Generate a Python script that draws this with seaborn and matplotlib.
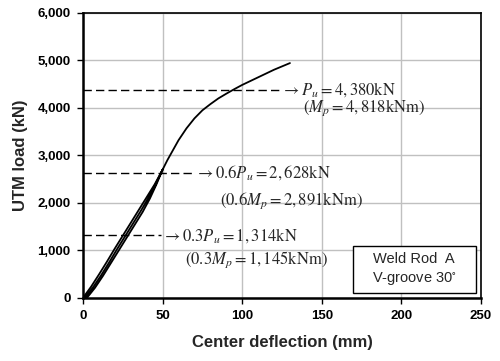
import pandas as pd
import matplotlib
matplotlib.use('Agg')
import matplotlib.pyplot as plt
from matplotlib.patches import Rectangle
import seaborn as sns

# load-deflection path (mm, kN)
load1_x = [0, 5, 10, 15, 20, 25, 30, 35, 40, 45, 50]
load1_y = [0, 230, 490, 760, 1040, 1310, 1580, 1850, 2120, 2390, 2700]
unload1_x = [50, 46, 42, 37.5, 32.5, 27.5, 22.5, 17.5, 12.5, 7.5, 2.5]
unload1_y = [2700, 2380, 2090, 1810, 1540, 1270, 1000, 730, 460, 210, 0]
load2_x = [1.3, 6.3, 11.3, 16.3, 21.3, 26.3, 31.3, 36.3, 41, 45.5, 50]
load2_y = [0, 220, 470, 740, 1020, 1290, 1560, 1830, 2100, 2380, 2700]
env_x = [50, 53, 56, 60, 65, 70, 75, 80, 85, 90, 95, 100, 105, 110, 115, 120, 125, 130]
env_y = [2700, 2900, 3080, 3320, 3570, 3780, 3950, 4080, 4200, 4300, 4395, 4485,
         4565, 4645, 4725, 4805, 4875, 4945]

# reference levels
levels = [4380, 2628, 1314]
dash_end = [124, 70, 49]
label_top = [r'$\rightarrow P_u = 4,380\mathrm{kN}$',
             r'$\rightarrow 0.6P_u = 2,628\mathrm{kN}$',
             r'$\rightarrow 0.3P_u = 1,314\mathrm{kN}$']
label_bot = [r'$(M_p = 4,818\mathrm{kNm})$',
             r'$(0.6M_p = 2,891\mathrm{kNm})$',
             r'$(0.3M_p = 1,145\mathrm{kNm})$']
label_bot_x = [138, 86, 64]
label_bot_y = [4000, 2050, 800]

df = pd.DataFrame({
    'x': load1_x + unload1_x + load2_x + env_x,
    'y': load1_y + unload1_y + load2_y + env_y,
})

sns.set_style('white')
plt.rcParams['mathtext.fontset'] = 'stix'
plt.rcParams['font.family'] = ['Liberation Sans', 'DejaVu Sans']

fig = plt.figure(figsize=(5, 3.61), dpi=100)
ax = fig.add_axes([0.166, 0.175, 0.796, 0.789])

ax.grid(True, color='#c0c0c0', linewidth=1)
ax.set_axisbelow(True)

sns.lineplot(data=df, x='x', y='y', sort=False, estimator=None,
             color='black', linewidth=1.3, ax=ax)

for lev, xe, t1, t2, bx, by in zip(levels, dash_end, label_top, label_bot,
                                   label_bot_x, label_bot_y):
    ax.plot([0, xe], [lev, lev], color='black', linestyle=(0, (6, 3)), linewidth=1)
    ax.text(xe + 0.5, lev, t1, fontsize=12, va='center', ha='left')
    ax.text(bx, by, t2, fontsize=12, va='center', ha='left')

ax.add_patch(Rectangle((169.5, 105), 77.5, 990, facecolor='white',
                       edgecolor='black', linewidth=1, zorder=3))
ax.text(208, 600, 'Weld Rod  A\nV-groove 30$^{\\circ}$', fontsize=10.5,
        ha='center', va='center', linespacing=1.3, zorder=4)

ax.set_xlim(0, 250)
ax.set_ylim(0, 6000)
ax.set_xticks([0, 50, 100, 150, 200, 250])
ax.set_yticks(range(0, 6001, 1000))
ax.set_yticklabels([f'{v:,}' for v in range(0, 6001, 1000)])
ax.tick_params(axis='both', direction='out', length=4, width=1, labelsize=9.5,
               colors='black', left=True, bottom=True, pad=5)
for lab in ax.get_xticklabels() + ax.get_yticklabels():
    lab.set_fontweight('bold')

for s in ['left', 'bottom']:
    ax.spines[s].set_linewidth(1.8)
for s in ['top', 'right']:
    ax.spines[s].set_linewidth(1.2)
for s in ax.spines.values():
    s.set_color('black')

ax.set_xlabel('Center deflection (mm)', fontsize=12, fontweight='bold', labelpad=9)
ax.set_ylabel('UTM load (kN)', fontsize=12, fontweight='bold', labelpad=7)

plt.savefig('out.png', dpi=100)
